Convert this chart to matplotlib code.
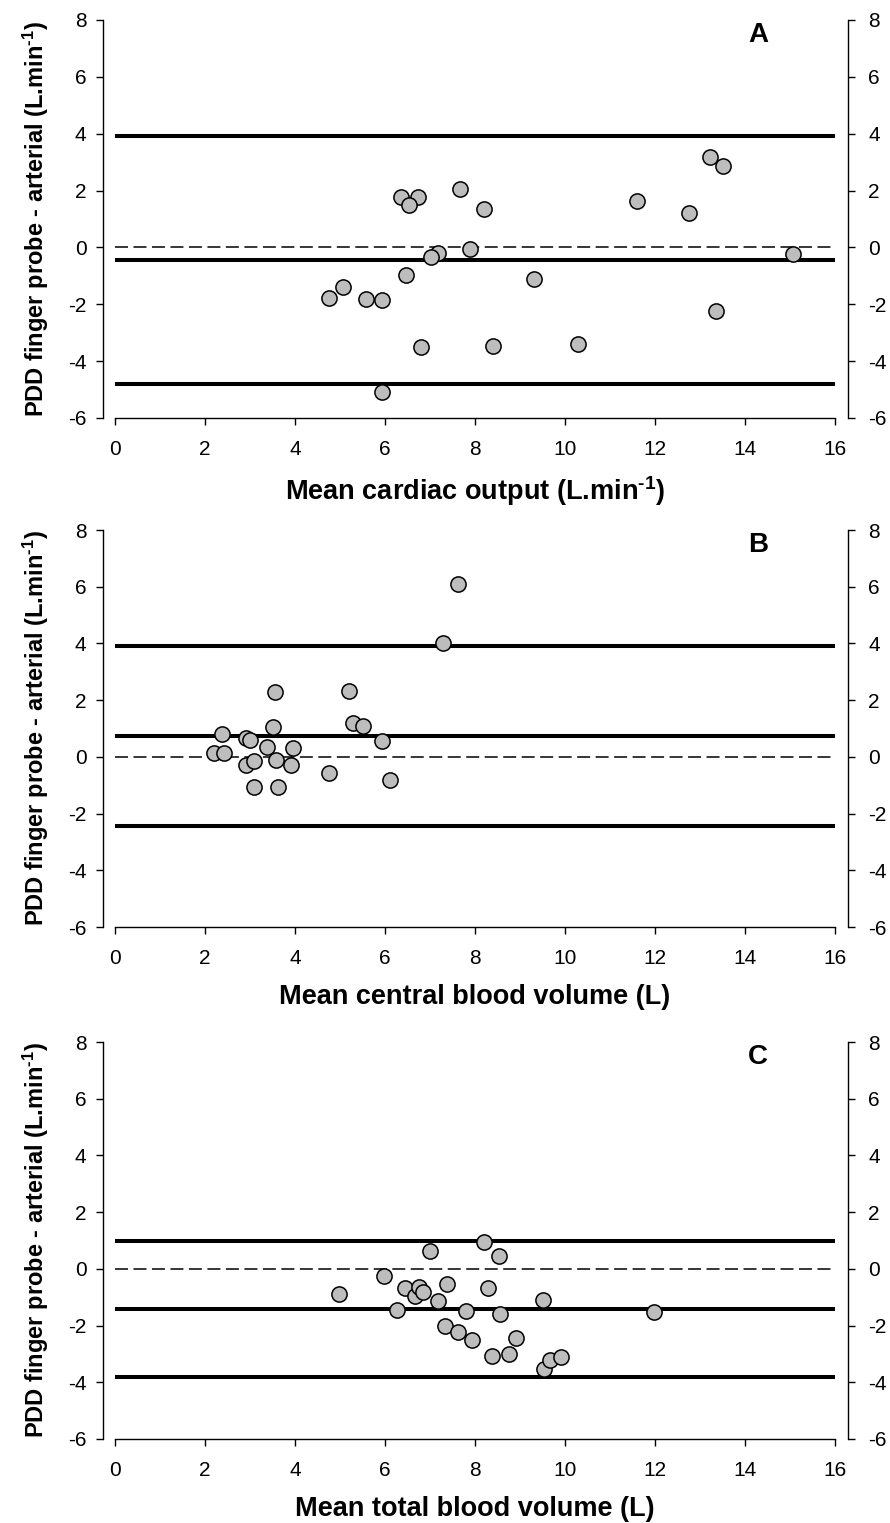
"""Bland-Altman style plots of PDD finger probe vs arterial, three panels."""

import matplotlib
matplotlib.use("Agg")
import matplotlib.pyplot as plt
import numpy as np

plt.rcParams["font.family"] = ["Liberation Sans", "DejaVu Sans"]
plt.rcParams["axes.unicode_minus"] = False
plt.rcParams["mathtext.fontset"] = "custom"
plt.rcParams["mathtext.rm"] = "Liberation Sans:bold"
plt.rcParams["mathtext.bf"] = "Liberation Sans:bold"
plt.rcParams["mathtext.default"] = "bf"

# Panel A: cardiac output
co_mean = [4.76, 5.06, 5.57, 5.94, 5.93, 6.35, 6.73, 6.54, 6.47, 6.79, 7.17, 7.03,
           7.67, 7.89, 8.2, 8.4, 9.31, 10.29, 11.6, 12.76, 13.22, 13.51, 13.35, 15.07]
co_diff = [-1.79, -1.40, -1.82, -1.85, -5.08, 1.78, 1.76, 1.51, -0.98, -3.52, -0.2, -0.32,
           2.06, -0.06, 1.35, -3.47, -1.12, -3.38, 1.62, 1.22, 3.19, 2.88, -2.22, -0.22]
co_lines = [3.92, -0.435, -4.79]

# Panel B: central blood volume
cbv_mean = [2.19, 2.42, 2.38, 2.92, 2.99, 2.91, 3.09, 3.09, 3.37, 3.51, 3.55, 3.58,
            3.63, 3.9, 3.96, 4.75, 5.2, 5.29, 5.52, 5.93, 6.12, 7.28, 7.63]
cbv_diff = [0.13, 0.15, 0.79, 0.67, 0.59, -0.29, -0.13, -1.07, 0.35, 1.06, 2.27, -0.12,
            -1.08, -0.29, 0.31, -0.58, 2.32, 1.19, 1.08, 0.56, -0.8, 4.02, 6.11]
cbv_lines = [3.92, 0.73, -2.44]

# Panel C: total blood volume
tbv_mean = [4.98, 5.97, 6.26, 6.44, 6.66, 6.75, 6.85, 7.01, 7.18, 7.33, 7.38, 7.63, 7.79,
            7.93, 8.2, 8.28, 8.38, 8.54, 8.56, 8.76, 8.91, 9.51, 9.53, 9.67, 9.9, 11.97]
tbv_diff = [-0.9, -0.26, -1.46, -0.67, -0.96, -0.63, -0.81, 0.63, -1.14, -2.01, -0.55,
            -2.24, -1.49, -2.52, 0.96, -0.67, -3.07, 0.44, -1.58, -3.01, -2.45, -1.09,
            -3.54, -3.22, -3.1, -1.53]
tbv_lines = [0.97, -1.43, -3.83]

panels = [
    ("A", co_mean, co_diff, co_lines, r"Mean cardiac output (L.min$^{\text{-1}}$)"),
    ("B", cbv_mean, cbv_diff, cbv_lines, "Mean central blood volume (L)"),
    ("C", tbv_mean, tbv_diff, tbv_lines, "Mean total blood volume (L)"),
]
ylabel = r"PDD finger probe - arterial (L.min$^{\text{-1}}$)"

W, H = 890, 1523
fig = plt.figure(figsize=(W / 100, H / 100), dpi=100)

# pixel boxes (top, bottom) for each panel's data area
boxes = [(20, 418), (530, 927), (1042, 1439)]
left_px, right_px = 115, 835
yticks = np.arange(-6, 9, 2)

for (letter, xs, ys, lines, xlabel), (top, bottom) in zip(panels, boxes):
    ax = fig.add_axes([left_px / W, 1 - bottom / H, (right_px - left_px) / W,
                       (bottom - top) / H])
    ax.set_xlim(0, 16)
    ax.set_ylim(-6, 8)

    ax.axhline(0, color="black", lw=1.1, ls=(0, (8.5, 3.6)), zorder=1)
    for value in lines:
        ax.axhline(value, color="black", lw=2.9, zorder=2)
    ax.scatter(xs, ys, s=120, facecolor="#bdbdbd", edgecolor="black",
               linewidth=1.1, zorder=3)

    for side in ("top", "right"):
        ax.spines[side].set_visible(False)
    ax.spines["left"].set_position(("outward", 8.5))
    for side in ("left", "bottom"):
        ax.spines[side].set_linewidth(1.0)

    ax.set_xticks(np.arange(0, 17, 2))
    ax.set_yticks(yticks)
    ax.tick_params(axis="x", direction="out", length=5, width=1.0, labelsize=15, pad=11)
    ax.tick_params(axis="y", direction="out", length=5, width=1.0, labelsize=15, pad=7)

    # right-hand duplicate axis
    ax_r = ax.twinx()
    ax_r.set_ylim(-6, 8)
    ax_r.set_yticks(yticks)
    for side in ("top", "left", "bottom"):
        ax_r.spines[side].set_visible(False)
    ax_r.spines["right"].set_position(("outward", 9))
    ax_r.spines["right"].set_linewidth(1.0)
    ax_r.tick_params(axis="y", direction="out", length=5, width=1.0, labelsize=15, pad=10)

    ax.set_xlabel(xlabel, fontsize=19.5, fontweight="bold", labelpad=11)
    ax.set_ylabel(ylabel, fontsize=17, fontweight="bold", labelpad=12)
    ax.text(0.893, 0.995, letter, transform=ax.transAxes, fontsize=20,
            fontweight="bold", ha="center", va="top")

fig.savefig("out.png", dpi=100)
